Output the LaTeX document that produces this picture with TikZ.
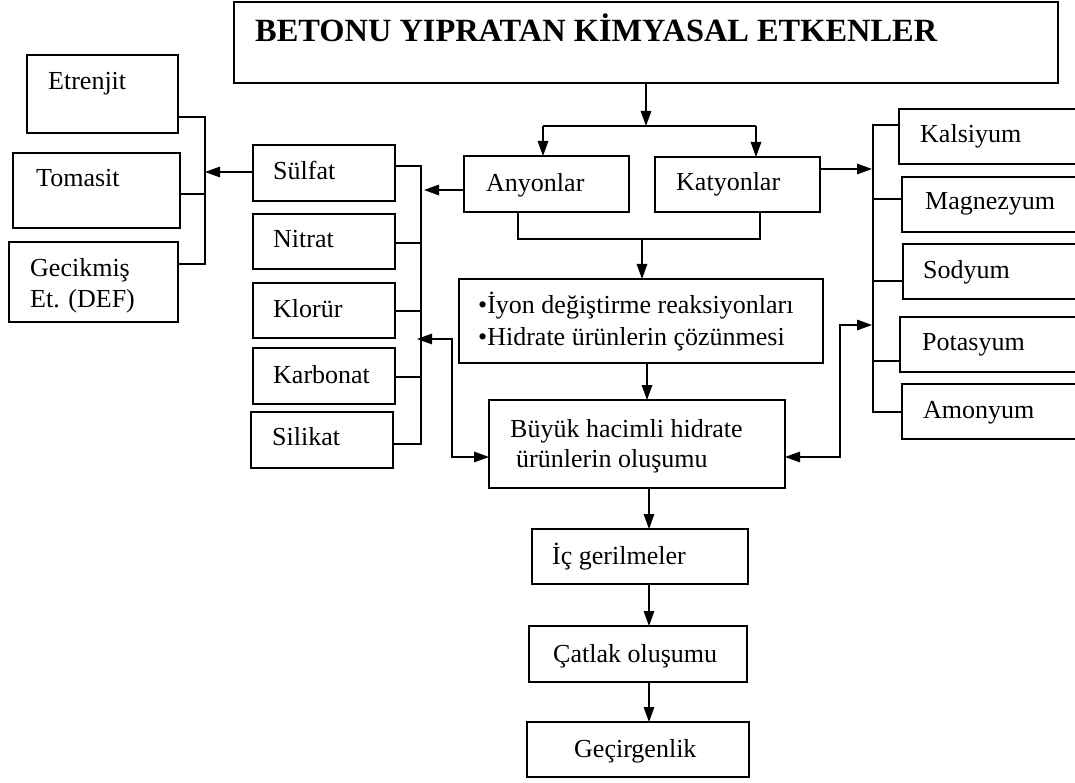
\documentclass[tikz,border=0pt]{standalone}
\usepackage{fontspec}
\setmainfont{Liberation Serif}
\usetikzlibrary{arrows.meta}
\newcommand\mybox[6][]{%
  \node[boxst,#1,minimum width={#4pt-#2pt},minimum height={#5pt-#3pt}] (#6) at ({(#2+#4)/2},{(#3+#5)/2}) {};}
\newcommand\mytxt[4][]{\node[txt,#1] (#2) at (#3) {#4};}
\tikzset{
  boxst/.style={draw, line width=1.4pt, inner sep=0pt, outer sep=0pt},
  thickbox/.style={line width=2.4pt},
  txt/.style={inner sep=0pt, anchor=base west, font=\fontsize{26}{30}\selectfont},
  titletxt/.style={font=\fontsize{32.4}{36}\selectfont\bfseries},
  line/.style={draw, line width=1.4pt},
  arr/.style={line, -{Triangle[length=15pt,width=10.5pt]}},
  darr/.style={line, {Triangle[length=15pt,width=10.5pt]}-{Triangle[length=15pt,width=10.5pt]}},
}
\begin{document}
\begin{tikzpicture}[x=1pt,y=-1pt]
\useasboundingbox (0,0) rectangle (1075,783);
\clip (0,0) rectangle (1075,783);
% boxes
\mybox{234}{2}{1058}{83}{title}
\mybox{27}{55}{178}{133}{etr}
\mybox[thickbox]{13}{153}{180}{228}{tom}
\mybox[thickbox]{9}{242}{178}{322}{gec}
\mybox{253}{145}{395}{201}{sul}
\mybox{253}{214}{395}{269}{nit}
\mybox{253}{283}{395}{338}{klo}
\mybox{253}{348}{395}{404}{kar}
\mybox{251}{412}{393}{468}{sil}
\mybox{464}{156}{629}{212}{any}
\mybox{655}{157}{820}{212}{kat}
\mybox{459}{279}{823}{363}{iyon}
\mybox{489}{400}{785}{488}{buy}
\mybox{899}{109}{1085}{164}{kal}
\mybox{902}{177}{1085}{232}{mag}
\mybox{903}{244}{1085}{299}{sod}
\mybox[thickbox]{900}{317}{1085}{372}{pot}
\mybox[thickbox]{902}{384}{1085}{439}{amo}
\mybox{532}{529}{748}{584}{ic}
\mybox{529}{626}{747}{682}{cat}
\mybox{527}{722}{749}{777}{gcr}
% texts
\mytxt[titletxt]{t-title}{255,42}{BETONU YIPRATAN KİMYASAL ETKENLER}
\mytxt{t-etr}{48,90}{Etrenjit}
\mytxt{t-tom}{36,187}{Tomasit}
\mytxt{t-gec1}{30,277}{Gecikmiş}
\mytxt{t-gec2}{30,308}{Et. (DEF)}
\mytxt{t-sul}{273,180}{Sülfat}
\mytxt{t-nit}{273,248}{Nitrat}
\mytxt{t-klo}{273,317}{Klorür}
\mytxt{t-kar}{273,383}{Karbonat}
\mytxt{t-sil}{272,445}{Silikat}
\mytxt{t-any}{486,192}{Anyonlar}
\mytxt{t-kat}{676,191}{Katyonlar}
\mytxt{t-kal}{920,143}{Kalsiyum}
\mytxt{t-mag}{925,210}{Magnezyum}
\mytxt{t-sod}{923,279}{Sodyum}
\mytxt{t-pot}{922,350}{Potasyum}
\mytxt{t-amo}{923,418}{Amonyum}
\mytxt{t-iyon1}{478,313}{•İyon değiştirme reaksiyonları}
\mytxt{t-iyon2}{478,345}{•Hidrate ürünlerin çözünmesi}
\mytxt{t-buy1}{510,437}{Büyük hacimli hidrate}
\mytxt{t-buy2}{516,467}{ürünlerin oluşumu}
\mytxt{t-ic}{552,564}{İç gerilmeler}
\mytxt{t-cat}{553,662}{Çatlak oluşumu}
\mytxt{t-gcr}{574,757}{Geçirgenlik}
% helper coordinates
\coordinate (sp) at (646,126);
\coordinate (spl) at (543,126);
\coordinate (spr) at (756,126);
\coordinate (jl) at (518,239);
\coordinate (jr) at (760,239);
\coordinate (jm) at (642,239);
\coordinate (c1) at (647,0);
\coordinate (c2) at (649,0);
\coordinate (ab) at (424,190);
\coordinate (lb1) at (421,166);
\coordinate (lb2) at (421,243);
\coordinate (lb3) at (421,311);
\coordinate (lb4) at (421,377);
\coordinate (lb5) at (421,444);
\coordinate (sb) at (205,172);
\coordinate (llb1) at (205,117);
\coordinate (llb2) at (205,194);
\coordinate (llb3) at (205,264);
\coordinate (kb) at (872,169);
\coordinate (rb1) at (873,125);
\coordinate (rb2) at (873,199);
\coordinate (rb3) at (873,281);
\coordinate (rb4) at (873,361);
\coordinate (rb5) at (873,412);
\coordinate (dlt) at (417,339);
\coordinate (dl1) at (452,339);
\coordinate (dl2) at (452,457);
\coordinate (drt) at (872,325);
\coordinate (dr1) at (840,325);
\coordinate (dr2) at (840,457);
% connectors
\draw[arr] (sp |- title.south) -- (sp);
\draw[line] (spl) -- (spr);
\draw[arr] (spl) -- (spl |- any.north);
\draw[arr] (spr) -- (spr |- kat.north);
\draw[line] (jl |- any.south) -- (jl) -- (jr) -- (jr |- kat.south);
\draw[arr] (jm) -- (jm |- iyon.north);
\draw[arr] (c1 |- iyon.south) -- (c1 |- buy.north);
\draw[arr] (c2 |- buy.south) -- (c2 |- ic.north);
\draw[arr] (c2 |- ic.south) -- (c2 |- cat.north);
\draw[arr] (c2 |- cat.south) -- (c2 |- gcr.north);
% anions
\draw[arr] (ab -| any.west) -- (ab);
\draw[line] (lb1 -| sul.east) -- (lb1) -- (lb5) -- (lb5 -| sil.east);
\draw[line] (lb2 -| nit.east) -- (lb2);
\draw[line] (lb3 -| klo.east) -- (lb3);
\draw[line] (lb4 -| kar.east) -- (lb4);
\draw[arr] (sb -| sul.west) -- (sb);
\draw[line] (llb1 -| etr.east) -- (llb1) -- (llb3) -- (llb3 -| gec.east);
\draw[line] (llb2 -| tom.east) -- (llb2);
% cations
\draw[arr] (kb -| kat.east) -- (kb);
\draw[line] (rb1 -| kal.west) -- (rb1) -- (rb5) -- (rb5 -| amo.west);
\draw[line] (rb2) -- (rb2 -| mag.west);
\draw[line] (rb3) -- (rb3 -| sod.west);
\draw[line] (rb4) -- (rb4 -| pot.west);
% feedback arrows
\draw[darr] (dlt) -- (dl1) -- (dl2) -- (dl2 -| buy.west);
\draw[darr] (drt) -- (dr1) -- (dr2) -- (dr2 -| buy.east);
% small mark under Kalsiyum
\draw[line width=2.5pt] (913,164) -- (939,164);
\end{tikzpicture}
\end{document}
